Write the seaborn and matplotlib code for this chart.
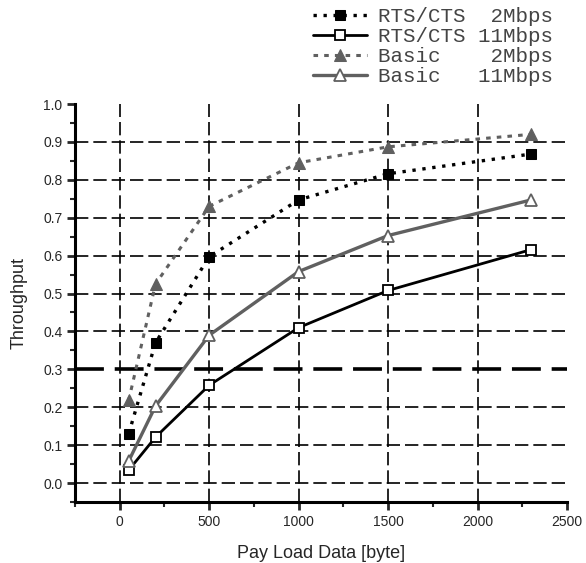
import matplotlib
matplotlib.use("Agg")
import matplotlib.pyplot as plt
import seaborn as sns
import pandas as pd
import numpy as np
from matplotlib.ticker import MultipleLocator, FixedLocator

payload = [50, 200, 500, 1000, 1500, 2300]
rts_2 = [0.13, 0.37, 0.597, 0.747, 0.816, 0.868]
rts_11 = [0.034, 0.121, 0.258, 0.41, 0.508, 0.616]
basic_2 = [0.218, 0.525, 0.73, 0.845, 0.887, 0.92]
basic_11 = [0.058, 0.203, 0.39, 0.558, 0.653, 0.747]
labels = ["RTS/CTS  2Mbps", "RTS/CTS 11Mbps", "Basic    2Mbps", "Basic   11Mbps"]
x_grid = [0, 500, 1000, 1500, 2000]
y_grid = [0.0, 0.1, 0.2, 0.3, 0.4, 0.5, 0.6, 0.7, 0.8, 0.9]
bold_y = 0.3

sns.set_style("ticks")
plt.rcParams['font.family'] = ['Liberation Sans', 'DejaVu Sans']

fig = plt.figure(figsize=(5.86, 5.63), dpi=100)
ax = fig.add_axes([75/586, 1-502/563, (567-75)/586, (502-104)/563])

gray = "#606060"
styles = [
    dict(color="black", linestyle=(0, (1, 2)), lw=2.4, marker="s", ms=7,
         mfc="black", mec="black"),
    dict(color="black", linestyle="-", lw=2.0, marker="s", ms=7,
         mfc="white", mec="black", mew=1.3),
    dict(color=gray, linestyle=(0, (1.5, 2)), lw=2.2, marker="^", ms=8,
         mfc=gray, mec=gray),
    dict(color=gray, linestyle="-", lw=2.4, marker="^", ms=8,
         mfc="white", mec=gray, mew=1.3),
]
series = [rts_2, rts_11, basic_2, basic_11]
for vals, lab, st in zip(series, labels, styles):
    df = pd.DataFrame({"x": payload, "y": vals})
    sns.lineplot(data=df, x="x", y="y", ax=ax, label=lab, zorder=3, **st)

# grid
grid_kw = dict(color="black", linestyle=(0, (8, 3)), zorder=1)
for gx in x_grid:
    ax.axvline(gx, lw=1.2, **grid_kw)
for gy in y_grid:
    ax.axhline(gy, lw=2.6 if abs(gy - bold_y) < 1e-9 else 1.2, **grid_kw)

ax.set_xlim(-250, 2500)
ax.set_ylim(-0.05, 1.0)
ax.xaxis.set_major_locator(MultipleLocator(500))
ax.xaxis.set_minor_locator(FixedLocator([-250, 250, 750, 1250, 1750, 2250]))
ax.yaxis.set_major_locator(MultipleLocator(0.1))
ax.yaxis.set_minor_locator(MultipleLocator(0.05))
ax.yaxis.set_major_formatter(matplotlib.ticker.FormatStrFormatter("%.1f"))

for s in ["top", "right"]:
    ax.spines[s].set_visible(False)
for s in ["left", "bottom"]:
    ax.spines[s].set_linewidth(2.2)
    ax.spines[s].set_color("black")

ax.tick_params(which="major", direction="out", length=6, width=2, labelsize=10, pad=3)
ax.tick_params(which="minor", direction="out", length=3.5, width=1.5)

ax.set_xlabel("Pay Load Data [byte]", fontsize=13, labelpad=12)
ax.set_ylabel("Throughput", fontsize=13, labelpad=11)

handles, labs = ax.get_legend_handles_labels()
ax.get_legend().remove()
fig.legend(handles, labs, loc="upper left", bbox_to_anchor=(313/586, 1-7/563),
           frameon=False, borderpad=0, borderaxespad=0, handlelength=2.6,
           handletextpad=0.5, labelspacing=0.05,
           prop={"family": "Liberation Mono", "size": 15}, labelcolor="#444444")

fig.savefig("out.png", dpi=100)
